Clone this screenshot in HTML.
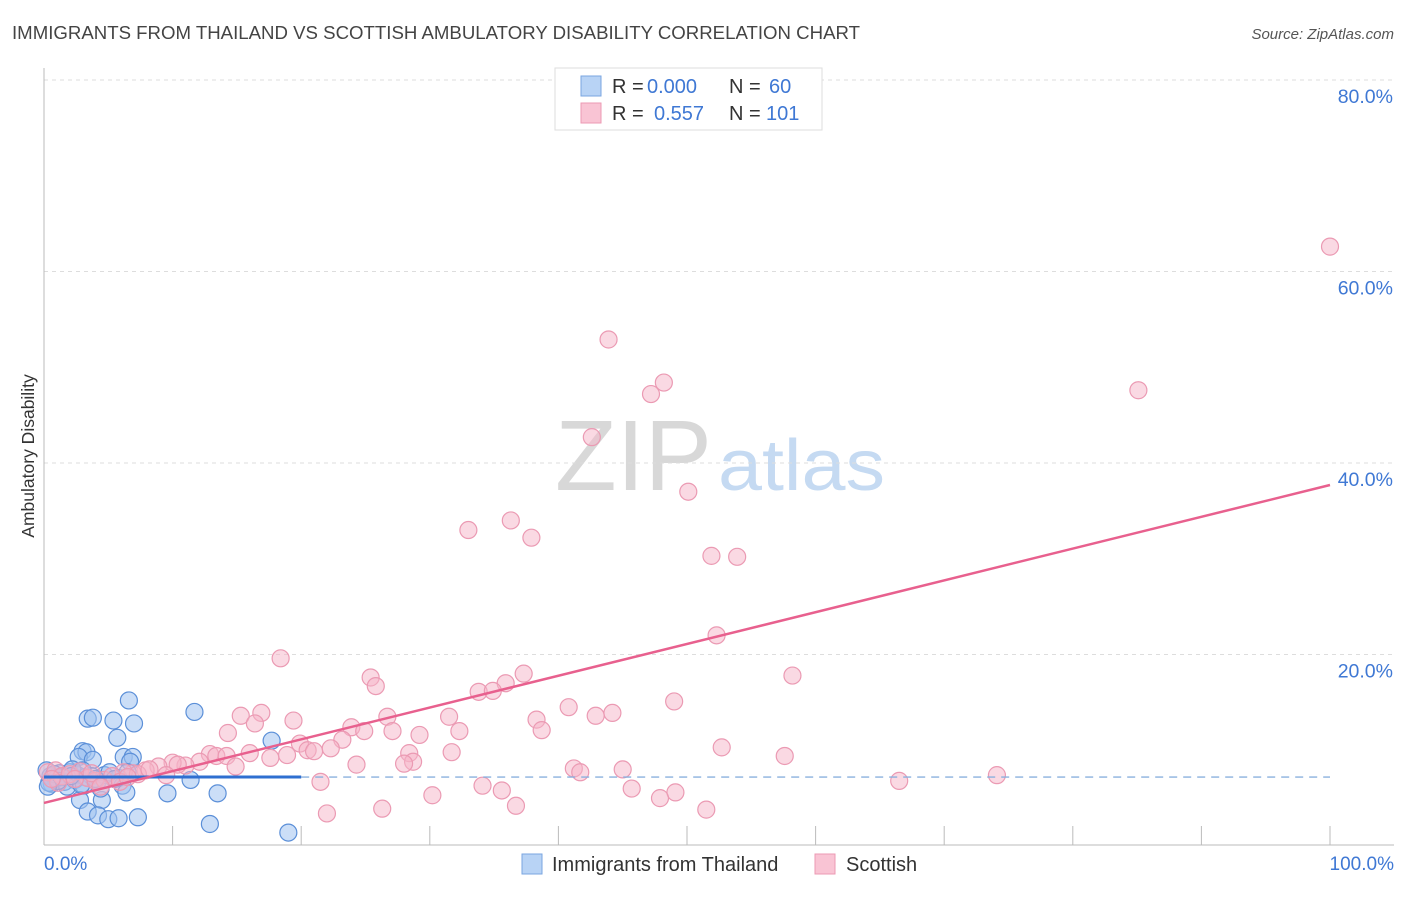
<!DOCTYPE html>
<html><head><meta charset="utf-8"><style>
body{margin:0;background:#fff;font-family:"Liberation Sans",sans-serif;}
svg text{font-family:"Liberation Sans",sans-serif;}
</style></head><body>
<svg width="1406" height="892" viewBox="0 0 1406 892">
<text x="12" y="39" font-size="18" fill="#444" textLength="848" lengthAdjust="spacingAndGlyphs">IMMIGRANTS FROM THAILAND VS SCOTTISH AMBULATORY DISABILITY CORRELATION CHART</text>
<text x="1394" y="39" font-size="15" fill="#555" font-style="italic" text-anchor="end">Source: ZipAtlas.com</text>
<text x="555" y="490" font-size="100" fill="#d8d8d8" textLength="157" lengthAdjust="spacingAndGlyphs" font-family="Liberation Serif">ZIP</text>
<text x="718" y="490" font-size="72" fill="#c5daf2" textLength="167" lengthAdjust="spacingAndGlyphs">atlas</text>
<g id="grid"></g>
<line x1="44" y1="68" x2="44" y2="845" stroke="#bbb"/>
<line x1="44" y1="845" x2="1394" y2="845" stroke="#bbb"/>
<g id="xticks"></g>
<text transform="translate(34,456) rotate(-90)" font-size="17.5" fill="#333" text-anchor="middle">Ambulatory Disability</text>
<text x="44" y="870" font-size="19" fill="#3f78d4">0.0%</text>
<text x="1394" y="870" font-size="19" fill="#3f78d4" text-anchor="end">100.0%</text>
<g id="blue"></g><g id="pink"></g><g id="lines"></g>
<g>
<rect x="555" y="68" width="267" height="62" fill="#fff" stroke="#ddd"/>
<rect x="581" y="76" width="20" height="20" fill="#b8d3f5" stroke="#7aa6e0"/>
<rect x="581" y="103" width="20" height="20" fill="#f9c4d4" stroke="#ec9ab3"/>
<text x="612" y="93" font-size="20" fill="#333">R = <tspan fill="#3f78d4" x="647">0.000</tspan><tspan x="729">N = </tspan><tspan fill="#3f78d4" x="769">60</tspan></text>
<text x="612" y="120" font-size="20" fill="#333">R = <tspan fill="#3f78d4" x="654">0.557</tspan><tspan x="729">N = </tspan><tspan fill="#3f78d4" x="766">101</tspan></text>
</g>
<g>
<rect x="522" y="854" width="20" height="20" fill="#b8d3f5" stroke="#7aa6e0"/>
<text x="552" y="871" font-size="20" fill="#333">Immigrants from Thailand</text>
<rect x="815" y="854" width="20" height="20" fill="#f9c4d4" stroke="#ec9ab3"/>
<text x="846" y="871" font-size="20" fill="#333">Scottish</text>
</g>
</svg>
<script>
const yTicks=[20,40,60,80];
const xTickVals=[0,10,20,30,40,50,60,70,80,90,100];
const blueX=[6.6,3.4,3.8,5.4,7.0,11.7,5.7,17.7,3.0,3.3,2.7,3.8,6.2,6.9,6.7,1.2,2.0,2.6,0.5,0.9,1.6,2.4,3.2,3.7,4.2,4.7,5.8,6.1,6.4,5.1,0.2,0.6,3.1,2.8,4.5,3.4,4.2,5.0,5.8,7.3,9.6,11.4,13.5,12.9,19.0,1.0,1.8,2.2,0.4,4.4,5.5,3.0,1.4,2.9,0.8,6.5,4.0,1.1,2.1,0.3];
const blueY=[15.2,13.3,13.4,13.1,12.8,14.0,11.3,11.0,9.9,9.8,9.3,9.0,9.3,9.3,8.8,7.6,7.7,7.4,7.3,7.0,6.7,6.9,7.2,7.3,6.8,7.4,7.1,6.3,5.6,7.7,7.9,6.5,6.3,4.8,4.8,3.6,3.2,2.8,2.9,3.0,5.5,6.9,5.5,2.3,1.4,7.1,6.2,8.0,6.6,6.0,7.0,7.9,7.2,6.4,7.5,7.7,7.0,6.8,7.3,6.2];
const pinkX=[100,85.1,43.9,48.2,47.2,42.6,50.1,33.0,36.3,37.9,51.9,53.9,52.3,18.4,25.4,25.8,37.3,35.9,33.8,34.9,58.2,49.0,40.8,44.2,42.9,31.5,26.7,38.3,15.3,16.9,16.4,19.4,23.9,14.3,24.9,27.1,29.2,32.3,38.7,23.2,22.3,19.9,20.5,21.0,18.9,31.7,28.4,28.7,28.0,52.7,57.6,16.0,17.6,12.9,13.4,14.2,12.1,11.0,10.0,10.4,8.9,7.9,6.9,6.2,7.3,14.9,24.3,41.2,41.7,45.0,21.5,34.1,35.6,45.7,49.1,47.9,30.2,36.7,26.3,22.0,51.5,66.5,74.1,0.3,0.9,1.4,2.0,2.8,3.4,4.0,4.7,5.3,5.9,1.1,2.4,3.7,4.4,6.5,8.2,9.5,0.6];
const pinkY=[62.6,47.6,52.9,48.4,47.2,42.7,37.0,33.0,34.0,32.2,30.3,30.2,22.0,19.6,17.6,16.7,18.0,17.0,16.1,16.2,17.8,15.1,14.5,13.9,13.6,13.5,13.5,13.2,13.6,13.9,12.8,13.1,12.4,11.8,12.0,12.0,11.6,12.0,12.1,11.1,10.2,10.7,10.0,9.9,9.5,9.8,9.7,8.8,8.6,10.3,9.4,9.7,9.2,9.6,9.4,9.4,8.8,8.4,8.7,8.5,8.3,7.9,7.6,7.7,7.5,8.3,8.5,8.1,7.7,8.0,6.7,6.3,5.8,6.0,5.6,5.0,5.3,4.2,3.9,3.4,3.8,6.8,7.4,7.7,7.9,7.3,7.5,7.8,7.1,6.8,6.9,7.3,6.7,6.6,7.0,7.6,6.2,7.2,8.0,7.4,7.0];
const blueFit=[7.2,7.2];
const pinkFit=[4.5,37.7];
const NS='http://www.w3.org/2000/svg';
const sx=v=>44+v*12.86, sy=v=>846-v*9.575;
function mk(tag,attrs,parent){const e=document.createElementNS(NS,tag);for(const k in attrs)e.setAttribute(k,attrs[k]);document.getElementById(parent).appendChild(e);return e;}
yTicks.forEach(t=>{
 const l=mk('line',{x1:44,x2:1394,y1:sy(t),y2:sy(t),stroke:'#ddd','stroke-dasharray':'4,4'},'grid');
 
 
 const tx=mk('text',{x:1393,y:sy(t)+23,'font-size':19.5,fill:'#3f78d4','text-anchor':'end'},'grid');
 tx.textContent=t.toFixed(1)+'%';
 
 
});
xTickVals.forEach(t=>{
 const l=mk('line',{x1:sx(t),x2:sx(t),y1:826,y2:845,stroke:'#bbb'},'xticks');
 
 
});
blueX.forEach((x,i)=>{
 const c=mk('circle',{cx:sx(x),cy:sy(blueY[i]),r:8.5,fill:'rgba(160,195,240,0.55)',stroke:'#5b8fd8','stroke-width':1.2},'blue');
 
 
});
pinkX.forEach((x,i)=>{
 const c=mk('circle',{cx:sx(x),cy:sy(pinkY[i]),r:8.5,fill:'rgba(245,180,200,0.5)',stroke:'#eb9ab3','stroke-width':1.2},'pink');
 
 
});
const bd=mk('line',{x1:sx(20),x2:sx(100),y1:sy(blueFit[0]),y2:sy(blueFit[1]),stroke:'#8ab0de','stroke-dasharray':'8,6','stroke-width':1.3},'lines');


const bl=mk('line',{x1:sx(0),x2:sx(20),y1:sy(blueFit[0]),y2:sy(blueFit[0]),stroke:'#2f6fd0','stroke-width':3},'lines');


const pl=mk('line',{x1:sx(0),x2:sx(100),y1:sy(pinkFit[0]),y2:sy(pinkFit[1]),stroke:'#e8608e','stroke-width':2.5},'lines');


</script>
</body></html>
